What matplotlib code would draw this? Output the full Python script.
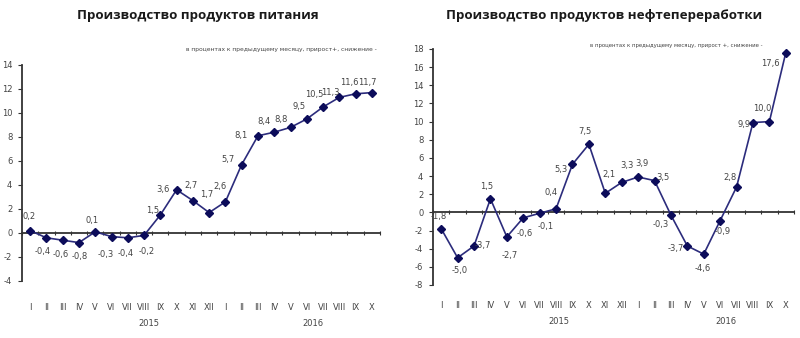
import matplotlib
matplotlib.use("Agg")
import matplotlib.pyplot as plt
from matplotlib.transforms import blended_transform_factory

plt.rcParams['font.family'] = ['Liberation Sans Narrow', 'DejaVu Sans']

months = ["I", "II", "III", "IV", "V", "VI", "VII", "VIII", "IX", "X", "XI", "XII",
          "I", "II", "III", "IV", "V", "VI", "VII", "VIII", "IX", "X"]
years = ["2015", "2016"]

food_values = [0.2, -0.4, -0.6, -0.8, 0.1, -0.3, -0.4, -0.2, 1.5, 3.6, 2.7, 1.7,
               2.6, 5.7, 8.1, 8.4, 8.8, 9.5, 10.5, 11.3, 11.6, 11.7]
oil_values = [-1.8, -5.0, -3.7, 1.5, -2.7, -0.6, -0.1, 0.4, 5.3, 7.5, 2.1, 3.3,
              3.9, 3.5, -0.3, -3.7, -4.6, -0.9, 2.8, 9.9, 10.0, 17.6]

titles = ["Производство продуктов питания", "Производство продуктов нефтепереработки"]
subtitle_food = "в процентах к предыдущему месяцу, прирост+, снижение -"
subtitle_oil = "в процентах к предыдущему месяцу, прирост +, снижение -"

# label placement around each marker, in pixels (dx, dy; up is positive)
food_offsets = [(-1, 14), (-4, -14), (-2, -14), (1, -14), (-3, 11), (-6, -18), (-2, -16),
                (3, -16), (-8, 5), (-14, 0), (-2, 15), (-2, 18), (-5, 15), (-14, 5),
                (-17, 0), (-10, 11), (-9, 8), (-8, 12), (-9, 12), (-9, 5), (-6, 11), (-5, 10)]
oil_offsets = [(-2, 12), (2, -13), (9, 0), (-4, 12), (3, -19), (1, -16), (6, -13),
               (-5, 16), (-11, -5), (-4, 13), (4, 19), (5, 17), (4, 13), (8, 3),
               (-10, -9), (-12, -3), (-1, -14), (2, -11), (-7, 9), (-9, -2), (-7, 13),
               (-15, -11)]

LINE = "#2c2c7c"
MARK = "#0c0c5a"
TXT = "#444444"

fig = plt.figure(figsize=(8.0, 3.38), dpi=100)
fig.patch.set_facecolor("white")


def fmt(v):
    return f"{v:.1f}".replace(".", ",")


def draw(rect, values, offsets, ylim, ystep, title, title_x, subtitle, sub_x, sub_y,
         sub_size, month_y, year_y, year_pos):
    ax = fig.add_axes(rect)
    x = list(range(len(values)))
    ax.plot(x, values, color=LINE, lw=1.2, marker="D", ms=4.0,
            mfc=MARK, mec=MARK, zorder=3, clip_on=False)
    ax.set_xlim(-0.5, len(values) - 0.5)
    ax.set_ylim(*ylim)
    ax.set_yticks(range(ylim[0], ylim[1] + 1, ystep))
    ax.set_yticklabels([str(t) for t in range(ylim[0], ylim[1] + 1, ystep)],
                       fontsize=6, color=TXT)
    ax.set_xticks([i + 0.5 for i in range(-1, len(values))])
    ax.tick_params(axis="x", which="both", direction="inout", length=3.5,
                   width=0.8, color="#333333", labelbottom=False)
    ax.tick_params(axis="y", direction="out", length=3, width=0.8,
                   color="#333333", pad=4)
    for s in ("top", "right"):
        ax.spines[s].set_visible(False)
    ax.spines["bottom"].set_position(("data", 0))
    ax.spines["bottom"].set_color("#333333")
    ax.spines["bottom"].set_linewidth(1.3)
    ax.spines["left"].set_color("#333333")
    ax.spines["left"].set_linewidth(1.3)
    ax.patch.set_visible(False)

    for xi, v, (dx, dy) in zip(x, values, offsets):
        ax.annotate(fmt(v), (xi, v), xytext=(dx, dy), textcoords="offset pixels",
                    ha="center", va="center", fontsize=6, color=TXT)

    tr = blended_transform_factory(ax.transData, fig.transFigure)
    for xi, m in zip(x, months):
        ax.text(xi, month_y, m, transform=tr, ha="center", va="center",
                fontsize=6, color=TXT)
    for xp, yr in zip(year_pos, years):
        ax.text(xp, year_y, yr, transform=tr, ha="center", va="center",
                fontsize=6, color=TXT)

    fig.text(title_x, 1 - 15 / 338, title, ha="center", va="center",
             fontsize=9.6, fontweight="bold", color="#1a1a1a",
             family=["Open Sans", "DejaVu Sans"])
    fig.text(sub_x, sub_y, subtitle, ha="left", va="center", fontsize=sub_size,
             color=TXT)
    return ax


draw([22 / 800, 1 - 281 / 338, 358 / 800, 216 / 338], food_values, food_offsets,
     (-4, 14), 2, titles[0], 198 / 800, subtitle_food, 186 / 800, 1 - 50 / 338, 4.3,
     1 - 307 / 338, 1 - 324 / 338, [7.3, 17.4])
draw([433 / 800, 1 - 285 / 338, 361 / 800, 236 / 338], oil_values, oil_offsets,
     (-8, 18), 2, titles[1], 604 / 800, subtitle_oil, 590 / 800, 1 - 46 / 338, 3.9,
     1 - 306 / 338, 1 - 321 / 338, [7.2, 17.35])

fig.savefig("out.png", dpi=100, facecolor="white")
